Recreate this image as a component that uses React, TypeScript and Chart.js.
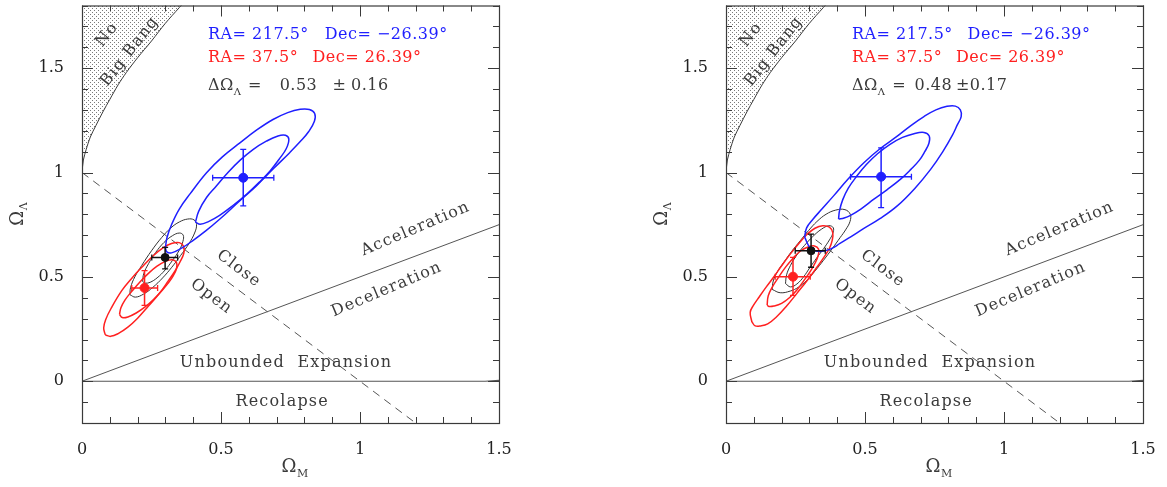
import React, { useEffect, useRef } from "react";
import { Chart, registerables } from "chart.js";
Chart.register(...registerables);

type Pt = [number, number];

// ---------- axes ----------
const X_MIN = 0, X_MAX = 1.5, Y_MIN = -0.2, Y_MAX = 1.8;
const xTickLabels = [0, 0.5, 1, 1.5];
const yTickLabels = [0, 0.5, 1, 1.5];
const xMinorTicks = [0, 0.1, 0.2, 0.3, 0.4, 0.5, 0.6, 0.7, 0.8, 0.9, 1.0, 1.1, 1.2, 1.3, 1.4, 1.5];
const yMinorTicks = [-0.2, -0.1, 0, 0.1, 0.2, 0.3, 0.4, 0.5, 0.6, 0.7, 0.8, 0.9, 1.0, 1.1, 1.2, 1.3, 1.4, 1.5, 1.6, 1.7, 1.8];

// ---------- shared boundary lines ----------
const noBigBangEdge: Pt[] = [
  [0, 1], [0.005, 1.06], [0.015, 1.11], [0.03, 1.17], [0.05, 1.225], [0.075, 1.29], [0.1, 1.35],
  [0.13, 1.42], [0.16, 1.48], [0.2, 1.55], [0.25, 1.63], [0.3, 1.715], [0.35, 1.79], [0.36, 1.805],
];
const flatLine: Pt[] = [[0, 1], [1.2, -0.2]];
const accelLine: Pt[] = [[0, 0], [1.5, 0.75]];
const recollapseLine: Pt[] = [[0, 0], [1.45, 0], [1.5, 0.004]];

// ---------- panel A (left) contours ----------
const blueOuterA: Pt[] = [[0.300, 0.640], [0.306, 0.690], [0.322, 0.750], [0.350, 0.825], [0.390, 0.900], [0.448, 0.999], [0.505, 1.075], [0.568, 1.142], [0.630, 1.205], [0.687, 1.254], [0.740, 1.287], [0.785, 1.303], [0.818, 1.302], [0.837, 1.283], [0.836, 1.245], [0.815, 1.195], [0.785, 1.148], [0.747, 1.095], [0.690, 1.020], [0.627, 0.936], [0.560, 0.855], [0.496, 0.777], [0.445, 0.720], [0.400, 0.675], [0.355, 0.635], [0.322, 0.615], [0.305, 0.620]];
const blueInnerA: Pt[] = [[0.408, 0.762], [0.420, 0.815], [0.448, 0.880], [0.484, 0.936], [0.525, 1.000], [0.568, 1.058], [0.615, 1.110], [0.663, 1.150], [0.705, 1.175], [0.732, 1.178], [0.744, 1.160], [0.735, 1.115], [0.710, 1.065], [0.678, 1.010], [0.639, 0.955], [0.594, 0.898], [0.544, 0.843], [0.495, 0.795], [0.455, 0.765], [0.425, 0.752]];
const redOuterA: Pt[] = [[0.084, 0.222], [0.078, 0.255], [0.085, 0.295], [0.105, 0.350], [0.143, 0.434], [0.180, 0.495], [0.215, 0.546], [0.255, 0.600], [0.290, 0.638], [0.322, 0.660], [0.350, 0.664], [0.366, 0.645], [0.366, 0.612], [0.352, 0.570], [0.334, 0.527], [0.311, 0.482], [0.278, 0.420], [0.239, 0.360], [0.200, 0.302], [0.165, 0.259], [0.130, 0.228], [0.103, 0.215]];
const redInnerA: Pt[] = [[0.135, 0.320], [0.140, 0.352], [0.155, 0.390], [0.180, 0.432], [0.210, 0.478], [0.240, 0.518], [0.270, 0.551], [0.300, 0.574], [0.325, 0.582], [0.340, 0.568], [0.340, 0.540], [0.328, 0.505], [0.310, 0.470], [0.288, 0.435], [0.258, 0.393], [0.227, 0.356], [0.195, 0.327], [0.165, 0.308], [0.145, 0.305]];
const blackOuterA: Pt[] = [[0.172, 0.415], [0.175, 0.450], [0.190, 0.500], [0.215, 0.555], [0.250, 0.625], [0.287, 0.689], [0.320, 0.735], [0.350, 0.763], [0.380, 0.777], [0.403, 0.773], [0.412, 0.750], [0.405, 0.710], [0.385, 0.660], [0.355, 0.603], [0.323, 0.546], [0.290, 0.495], [0.255, 0.450], [0.222, 0.418], [0.192, 0.403]];
const blackInnerA: Pt[] = [[0.218, 0.478], [0.222, 0.515], [0.240, 0.565], [0.265, 0.617], [0.295, 0.665], [0.325, 0.697], [0.350, 0.710], [0.364, 0.700], [0.363, 0.670], [0.350, 0.628], [0.325, 0.578], [0.299, 0.533], [0.270, 0.495], [0.245, 0.474], [0.228, 0.470]];
const bluePointA = { x: 0.580, y: 0.975, xLo: 0.470, xHi: 0.690, yLo: 0.840, yHi: 1.111 };
const redPointA = { x: 0.225, y: 0.447, xLo: 0.179, xHi: 0.272, yLo: 0.363, yHi: 0.530 };
const blackPointA = { x: 0.299, y: 0.593, xLo: 0.251, xHi: 0.344, yLo: 0.538, yHi: 0.641 };
const deltaA = ["0.53", "±", "0.16"];

// ---------- panel B (right) contours ----------
const blueOuterB: Pt[] = [[0.283, 0.690], [0.290, 0.735], [0.312, 0.775], [0.345, 0.825], [0.387, 0.888], [0.440, 0.970], [0.496, 1.047], [0.555, 1.115], [0.616, 1.174], [0.665, 1.225], [0.712, 1.268], [0.755, 1.300], [0.795, 1.317], [0.825, 1.318], [0.843, 1.300], [0.846, 1.268], [0.832, 1.228], [0.815, 1.180], [0.780, 1.100], [0.736, 1.015], [0.680, 0.925], [0.616, 0.840], [0.555, 0.780], [0.496, 0.732], [0.450, 0.693], [0.410, 0.660], [0.375, 0.633], [0.339, 0.622], [0.305, 0.635]];
const blueInnerB: Pt[] = [[0.405, 0.777], [0.408, 0.815], [0.420, 0.870], [0.440, 0.925], [0.470, 0.982], [0.505, 1.038], [0.545, 1.090], [0.590, 1.135], [0.635, 1.168], [0.676, 1.186], [0.712, 1.192], [0.731, 1.175], [0.730, 1.140], [0.715, 1.100], [0.695, 1.058], [0.665, 1.015], [0.628, 0.968], [0.580, 0.918], [0.532, 0.872], [0.485, 0.825], [0.448, 0.795], [0.425, 0.782]];
const redOuterB: Pt[] = [[0.093, 0.285], [0.087, 0.330], [0.098, 0.362], [0.120, 0.405], [0.145, 0.452], [0.171, 0.498], [0.200, 0.553], [0.231, 0.609], [0.262, 0.660], [0.291, 0.703], [0.320, 0.733], [0.348, 0.745], [0.372, 0.738], [0.384, 0.712], [0.382, 0.675], [0.372, 0.637], [0.352, 0.593], [0.327, 0.546], [0.292, 0.483], [0.255, 0.421], [0.218, 0.360], [0.183, 0.310], [0.150, 0.275], [0.125, 0.265], [0.105, 0.265]];
const redInnerB: Pt[] = [[0.148, 0.365], [0.152, 0.410], [0.168, 0.455], [0.190, 0.500], [0.215, 0.548], [0.243, 0.592], [0.268, 0.624], [0.295, 0.643], [0.318, 0.648], [0.333, 0.633], [0.332, 0.605], [0.322, 0.570], [0.305, 0.530], [0.280, 0.482], [0.255, 0.437], [0.228, 0.400], [0.200, 0.373], [0.172, 0.360], [0.155, 0.358]];
const blackOuterB: Pt[] = [[0.166, 0.440], [0.170, 0.480], [0.185, 0.525], [0.207, 0.568], [0.235, 0.620], [0.267, 0.673], [0.297, 0.722], [0.327, 0.765], [0.360, 0.800], [0.395, 0.820], [0.428, 0.822], [0.447, 0.800], [0.446, 0.765], [0.430, 0.725], [0.411, 0.689], [0.382, 0.635], [0.351, 0.580], [0.320, 0.528], [0.291, 0.484], [0.260, 0.450], [0.231, 0.432], [0.195, 0.424]];
const blackInnerB: Pt[] = [[0.214, 0.468], [0.218, 0.510], [0.232, 0.555], [0.255, 0.605], [0.282, 0.650], [0.312, 0.693], [0.343, 0.728], [0.370, 0.745], [0.386, 0.735], [0.384, 0.708], [0.372, 0.677], [0.352, 0.637], [0.327, 0.592], [0.302, 0.545], [0.279, 0.500], [0.255, 0.466], [0.232, 0.452]];
const bluePointB = { x: 0.558, y: 0.980, xLo: 0.448, xHi: 0.667, yLo: 0.832, yHi: 1.118 };
const redPointB = { x: 0.241, y: 0.501, xLo: 0.177, xHi: 0.303, yLo: 0.411, yHi: 0.593 };
const blackPointB = { x: 0.306, y: 0.625, xLo: 0.249, xHi: 0.357, yLo: 0.546, yHi: 0.705 };
const deltaB = ["0.48", "±0.17"];

// ---------- text ----------
const blueCoords = ["RA= 217.5°", "Dec= −26.39°"];
const redCoords = ["RA= 37.5°", "Dec= 26.39°"];
const regionLabels = [
  { text: "Acceleration", x: 1.200, y: 0.730, rot: -23 },
  { text: "Deceleration", x: 1.096, y: 0.439, rot: -23 },
  { text: "Close", x: 0.564, y: 0.539, rot: 37 },
  { text: "Open", x: 0.465, y: 0.406, rot: 37 },
  { text: "Unbounded  Expansion", x: 0.734, y: 0.086, rot: 0 },
  { text: "Recolapse", x: 0.720, y: -0.099, rot: 0 },
  { text: "No", x: 0.090, y: 1.660, rot: -52 },
  { text: "Big Bang", x: 0.172, y: 1.580, rot: -52 },
];

const BLUE = "#1f1fff";
const RED = "#ff2020";
const BLACK = "#333333";
const INK = "#3a3a3a";
const FONT = '"DejaVu Serif", serif';

const panels = [
  {
    left: 0,
    blueOuter: blueOuterA, blueInner: blueInnerA, redOuter: redOuterA, redInner: redInnerA,
    blackOuter: blackOuterA, blackInner: blackInnerA,
    bluePt: bluePointA, redPt: redPointA, blackPt: blackPointA,
    delta: deltaA, deltaX: [0.711, 0.901, 0.968], eqX: 0.597,
    dec: [0.873, 0.829],
  },
  {
    left: 644,
    blueOuter: blueOuterB, blueInner: blueInnerB, redOuter: redOuterB, redInner: redInnerB,
    blackOuter: blackOuterB, blackInner: blackInnerB,
    bluePt: bluePointB, redPt: redPointB, blackPt: blackPointB,
    delta: deltaB, deltaX: [0.678, 0.827], eqX: 0.598,
    dec: [0.869, 0.827],
  },
];

const toXY = (p: Pt[]) => p.map(([x, y]) => ({ x, y }));
const loop = (p: Pt[]) => toXY([...p, p[0]]);

function lineDs(data: any[], color: string, width: number, extra: any = {}) {
  return {
    data, showLine: true, borderColor: color, borderWidth: width,
    pointRadius: 0, pointHoverRadius: 0, fill: false, tension: 0, ...extra,
  };
}

function pointDs(p: any, color: string, r: number) {
  const cap = { pointStyle: "line", pointRadius: 3, pointBorderColor: color, pointBorderWidth: 1.3, pointHoverRadius: 3 };
  return [
    lineDs([{ x: p.xLo, y: p.y }, { x: p.xHi, y: p.y }], color, 1.5, { ...cap, rotation: 90 }),
    lineDs([{ x: p.x, y: p.yLo }, { x: p.x, y: p.yHi }], color, 1.5, { ...cap, rotation: 0 }),
    {
      data: [{ x: p.x, y: p.y }], showLine: false, pointRadius: r, pointHoverRadius: r,
      backgroundColor: color, borderColor: color, pointStyle: "circle",
    },
  ];
}

function drawText(ctx: CanvasRenderingContext2D, text: string, px: number, py: number, rot: number,
  color: string, font: string, spacing: string, align: CanvasTextAlign) {
  ctx.save();
  ctx.translate(px, py);
  ctx.rotate((rot * Math.PI) / 180);
  ctx.font = font;
  (ctx as any).letterSpacing = spacing;
  ctx.fillStyle = color;
  ctx.textAlign = align;
  ctx.textBaseline = "middle";
  ctx.fillText(text, 0, 0);
  ctx.restore();
}

function Panel({ cfg }: { cfg: any }) {
  const ref = useRef<HTMLCanvasElement | null>(null);
  useEffect(() => {
    const canvas = ref.current!;
    const pc = document.createElement("canvas");
    pc.width = 4; pc.height = 4;
    const pctx = pc.getContext("2d")!;
    pctx.fillStyle = "#7a7a7a";
    pctx.fillRect(0, 0, 1, 1);
    pctx.fillRect(2, 2, 1, 1);
    const pattern = canvas.getContext("2d")!.createPattern(pc, "repeat");

    const T = 0.4;
    const layers: any[] = [
      lineDs(toXY(noBigBangEdge), INK, 1, { fill: "end", backgroundColor: pattern, tension: 0.3 }),
      lineDs(toXY(flatLine), "#555", 1, { borderDash: [8, 6] }),
      lineDs(toXY(accelLine), "#555", 1),
      lineDs(toXY(recollapseLine), "#555", 1.2),
      lineDs(loop(cfg.blackOuter), BLACK, 1, { tension: T }),
      lineDs(loop(cfg.blackInner), BLACK, 1, { tension: T }),
      lineDs(loop(cfg.redOuter), RED, 1.5, { tension: T }),
      lineDs(loop(cfg.redInner), RED, 1.5, { tension: T }),
      lineDs(loop(cfg.blueOuter), BLUE, 1.5, { tension: T }),
      lineDs(loop(cfg.blueInner), BLUE, 1.5, { tension: T }),
      ...pointDs(cfg.redPt, RED, 4.5),
      ...pointDs(cfg.blackPt, "#111", 4),
      ...pointDs(cfg.bluePt, BLUE, 4.5),
    ];
    const datasets = layers.slice().reverse();

    const overlay = {
      id: "overlay",
      afterDatasetsDraw(chart: any) {
        const ctx: CanvasRenderingContext2D = chart.ctx;
        const { left, right, top, bottom } = chart.chartArea;
        const xs = chart.scales.x, ys = chart.scales.y;
        ctx.save();
        ctx.strokeStyle = INK;
        ctx.lineWidth = 1.2;
        ctx.strokeRect(left + 0.5, top + 0.5, right - left, bottom - top);
        ctx.lineWidth = 1;
        ctx.beginPath();
        xMinorTicks.forEach((v) => {
          const px = Math.round(xs.getPixelForValue(v)) + 0.5;
          const len = xTickLabels.some((m) => Math.abs(m - v) < 1e-6) ? 11 : 6;
          ctx.moveTo(px, bottom); ctx.lineTo(px, bottom - len);
          ctx.moveTo(px, top); ctx.lineTo(px, top + len);
        });
        yMinorTicks.forEach((v) => {
          const py = Math.round(ys.getPixelForValue(v)) + 0.5;
          const len = yTickLabels.some((m) => Math.abs(m - v) < 1e-6) ? 11 : 6;
          ctx.moveTo(left, py); ctx.lineTo(left + len, py);
          ctx.moveTo(right, py); ctx.lineTo(right - len, py);
        });
        ctx.stroke();
        ctx.restore();

        const P = (x: number, y: number) => [xs.getPixelForValue(x), ys.getPixelForValue(y)];
        const f16 = `16px ${FONT}`;
        regionLabels.forEach((l) => {
          const [px, py] = P(l.x, l.y);
          drawText(ctx, l.text, px, py, l.rot, INK, f16, "1.2px", "center");
        });
        const x0 = 0.453;
        let [px, py] = P(x0, 1.661);
        drawText(ctx, blueCoords[0], px, py, 0, BLUE, f16, "0.5px", "left");
        drawText(ctx, blueCoords[1], P(cfg.dec[0], 1.661)[0], py, 0, BLUE, f16, "0.5px", "left");
        [px, py] = P(x0, 1.547);
        drawText(ctx, redCoords[0], px, py, 0, RED, f16, "0.5px", "left");
        drawText(ctx, redCoords[1], P(cfg.dec[1], 1.547)[0], py, 0, RED, f16, "0.5px", "left");
        [px, py] = P(x0, 1.413);
        drawText(ctx, "ΔΩ", px, py, 0, INK, f16, "0.5px", "left");
        ctx.font = f16;
        const wdo = ctx.measureText("ΔΩ").width + 1;
        drawText(ctx, "Λ", px + wdo, py + 6, 0, INK, `10px ${FONT}`, "0px", "left");
        drawText(ctx, "=", P(cfg.eqX, 1.413)[0], py, 0, INK, f16, "0.5px", "left");
        cfg.delta.forEach((t: string, i: number) => {
          drawText(ctx, t, P(cfg.deltaX[i], 1.413)[0], py, 0, INK, f16, "0.5px", "left");
        });
        const cx = left + 207;
        drawText(ctx, "Ω", cx, 467, 0, INK, `18px ${FONT}`, "0px", "center");
        drawText(ctx, "M", cx + 8, 474, 0, INK, `11px ${FONT}`, "0px", "left");
        const cy = (top + bottom) / 2 + 4;
        ctx.save();
        ctx.translate(left - 64, cy);
        ctx.rotate(-Math.PI / 2);
        drawText(ctx, "Ω", 0, 0, 0, INK, `18px ${FONT}`, "0px", "center");
        drawText(ctx, "Λ", 8, 6, 0, INK, `11px ${FONT}`, "0px", "left");
        ctx.restore();
      },
    };

    const tickFont = { family: FONT, size: 16 };
    const chart = new Chart(canvas, {
      type: "scatter",
      data: { datasets },
      options: {
        animation: false,
        responsive: false,
        maintainAspectRatio: false,
        events: [],
        layout: { padding: { left: 2, right: 21, top: 3, bottom: 4 } },
        plugins: { legend: { display: false }, tooltip: { enabled: false } },
        scales: {
          x: {
            type: "linear", min: X_MIN, max: X_MAX,
            grid: { display: false }, border: { display: false },
            afterBuildTicks: (s: any) => { s.ticks = xTickLabels.map((v) => ({ value: v })); },
            afterFit: (s: any) => { s.height = 60; s.paddingLeft = 0; s.paddingRight = 0; },
            ticks: { padding: 9, color: "#222", font: tickFont, maxRotation: 0, autoSkip: false, callback: (v: any) => String(v) },
          },
          y: {
            type: "linear", min: Y_MIN, max: Y_MAX,
            grid: { display: false }, border: { display: false },
            afterBuildTicks: (s: any) => { s.ticks = yTickLabels.map((v) => ({ value: v })); },
            afterFit: (s: any) => { s.width = 80; s.paddingTop = 0; s.paddingBottom = 0; },
            ticks: { padding: 10, color: "#222", font: tickFont, autoSkip: false, callback: (v: any) => String(v) },
          },
        },
      } as any,
      plugins: [overlay],
    });
    return () => chart.destroy();
  }, [cfg]);
  return (
    <canvas ref={ref} width={520} height={487}
      style={{ position: "absolute", left: cfg.left, top: 0, width: 520, height: 487 }} />
  );
}

export default function App() {
  return (
    <div style={{ position: "absolute", left: 0, top: 0, width: 1167, height: 487, background: "#fff", overflow: "hidden" }}>
      {panels.map((p, i) => <Panel key={i} cfg={p} />)}
    </div>
  );
}
